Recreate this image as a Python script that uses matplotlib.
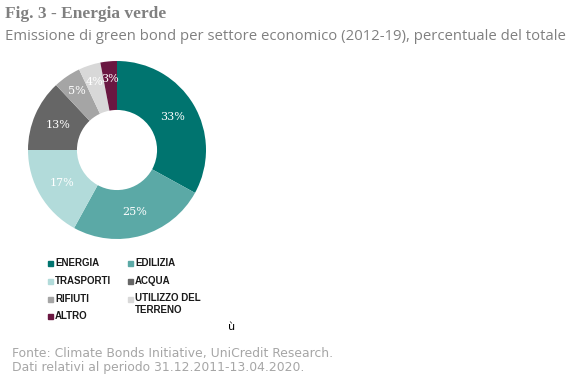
import matplotlib
matplotlib.use('Agg')
from matplotlib import pyplot as plt
import numpy as np

# Data
settori = ['ENERGIA', 'EDILIZIA', 'TRASPORTI', 'ACQUA', 'RIFIUTI', 'UTILIZZO DEL\nTERRENO', 'ALTRO']
quote = [33, 25, 17, 13, 5, 4, 3]
colori = ['#00746f', '#5ba9a6', '#b2dbda', '#666666', '#a5a5a5', '#d8d8d8', '#6a1741']

W, H = 571, 383
fig = plt.figure(figsize=(W / 100, H / 100), dpi=100)

# titles
fig.text(5 / W, 1 - 14 / H, 'Fig. 3 - Energia verde', fontsize=12.5, fontweight='bold',
         family='Liberation Serif', color='#808080', va='center')
fig.text(5 / W, 1 - 36 / H, 'Emissione di green bond per settore economico (2012-19), percentuale del totale',
         fontsize=10.7, family='Open Sans', color='#808080', va='center')

# donut
cx, cy, r = 117, 150, 89
ax = fig.add_axes([(cx - r) / W, 1 - (cy + r) / H, 2 * r / W, 2 * r / H])
wedges, _ = ax.pie(quote, colors=colori, startangle=90, counterclock=False, radius=1,
                   wedgeprops=dict(width=0.55, linewidth=0))
for w, q in zip(wedges, quote):
    mid = np.deg2rad((w.theta1 + w.theta2) / 2)
    rr = 0.72 if q > 5 else 0.8
    ax.text(rr * np.cos(mid), rr * np.sin(mid), f'{q}%', ha='center', va='center',
            fontsize=8, color='white', family='DejaVu Serif')
ax.set_xlim(-1, 1)
ax.set_ylim(-1, 1)
ax.axis('off')

# legend
pos = [(48, 263), (128, 263), (48, 281), (128, 281), (48, 299), (128, 299), (48, 316)]
for (x, y), nome, c in zip(pos, settori, colori):
    fig.patches.append(plt.Rectangle((x / W, 1 - (y + 2.5) / H), 5 / W, 5 / H,
                                     transform=fig.transFigure, color=c, figure=fig))
    if '\n' in nome:
        fig.text((x + 7) / W, 1 - 293 / H, nome, fontsize=7, fontweight='bold',
                 family='Liberation Sans', color='#1a1a1a', va='top', linespacing=1.25)
    else:
        fig.text((x + 7) / W, 1 - y / H, nome, fontsize=7, fontweight='bold',
                 family='Liberation Sans', color='#1a1a1a', va='center')

fig.text(228 / W, 1 - 327 / H, 'ù', fontsize=8, family='DejaVu Sans', color='black', va='center')

# source
fig.text(12 / W, 1 - 354 / H, 'Fonte: Climate Bonds Initiative, UniCredit Research.',
         fontsize=8.9, family='DejaVu Sans', color='#a6a6a6', va='center')
fig.text(12 / W, 1 - 367 / H, 'Dati relativi al periodo 31.12.2011-13.04.2020.',
         fontsize=8.9, family='DejaVu Sans', color='#a6a6a6', va='center')

fig.savefig('out.png', dpi=100)
